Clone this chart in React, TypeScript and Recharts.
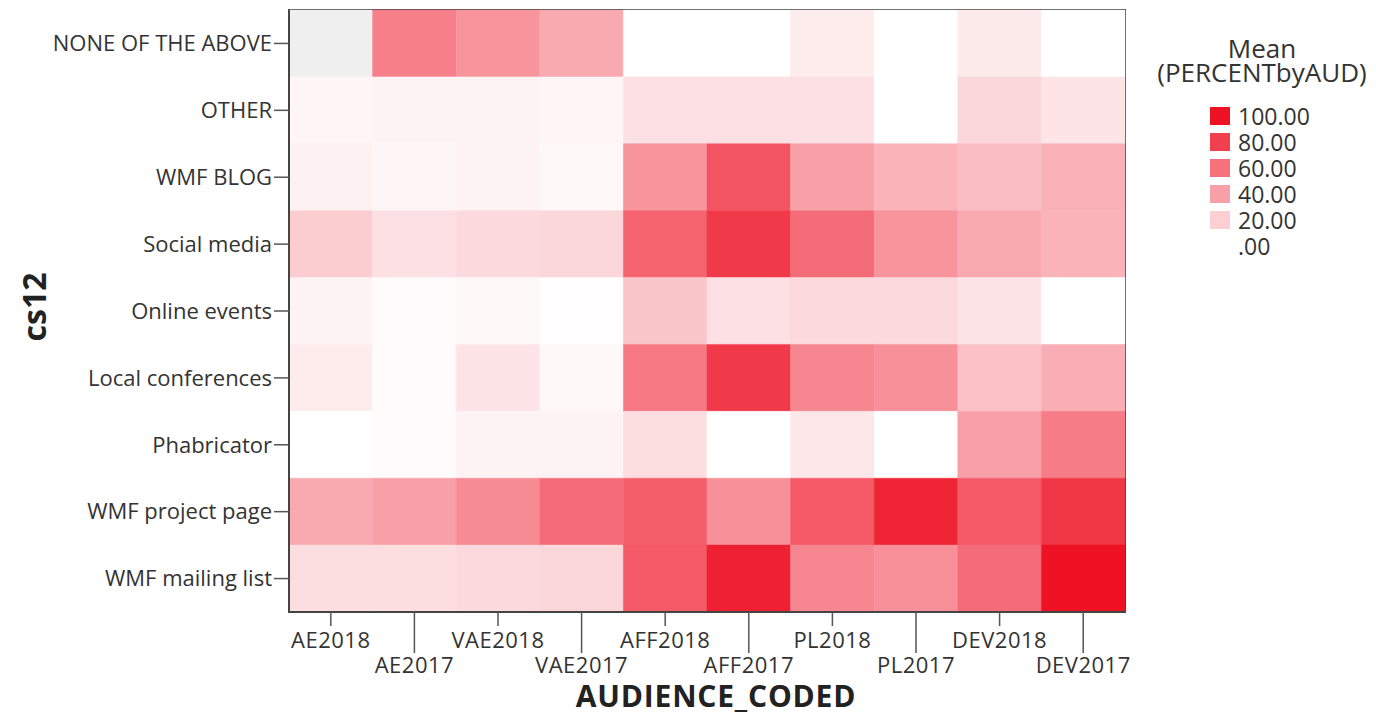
import React from "react";
import { BarChart, Bar, Cell, XAxis, YAxis, Legend, ReferenceArea } from "recharts";

const columns = ["AE2018", "AE2017", "VAE2018", "VAE2017", "AFF2018", "AFF2017", "PL2018", "PL2017", "DEV2018", "DEV2017"];
const rows = [
  "NONE OF THE ABOVE", "OTHER", "WMF BLOG", "Social media", "Online events",
  "Local conferences", "Phabricator", "WMF project page", "WMF mailing list",
];

// mean percent per audience, one array per cs12 row (null = no data, grey cell)
const noneOfTheAbove = [null, 54, 45, 36, 0, 0, 8, 0, 9, 0];
const other = [4, 5, 5, 4, 13, 13, 13, 0, 17, 11];
const wmfBlog = [6, 4, 5, 3, 45, 72, 40, 32, 28, 33];
const socialMedia = [21, 13, 16, 17, 66, 83, 62, 45, 36, 32];
const onlineEvents = [5, 2, 3, 1, 24, 13, 16, 16, 11, 0];
const localConferences = [8, 2, 11, 3, 57, 83, 51, 47, 26, 34];
const phabricator = [0, 2, 5, 5, 14, 0, 10, 0, 40, 55];
const wmfProjectPage = [36, 40, 49, 62, 68, 47, 70, 92, 70, 85];
const wmfMailingList = [14, 14, 16, 17, 70, 94, 51, 47, 62, 100];

const legendValues = [100, 80, 60, 40, 20, 0];

const matrix = [
  noneOfTheAbove, other, wmfBlog, socialMedia, onlineEvents,
  localConferences, phabricator, wmfProjectPage, wmfMailingList,
];

const FONT = "'Open Sans', 'DejaVu Sans', sans-serif";

function heat(v: number | null) {
  if (v == null) return "#efefef";
  const t = Math.max(0, Math.min(1, v / 100));
  const r = Math.round(255 - t * (255 - 238));
  const g = Math.round(255 - t * (255 - 18));
  const b = Math.round(255 - t * (255 - 36));
  return `rgb(${r},${g},${b})`;
}

const data = rows.map((name) => {
  const d: Record<string, any> = { name };
  columns.forEach((_, j) => (d[`c${j}`] = 1));
  return d;
});

const xTicks = columns.map((_, j) => j + 0.5);

function AudienceTick(props: any) {
  const { x, y, payload } = props;
  const j = Math.floor(payload.value);
  const low = j % 2 === 1;
  return (
    <g>
      <line x1={x} x2={x} y1={y} y2={y + (low ? 41 : 14)} stroke="#555" strokeWidth={1.5} />
      <text x={x} y={y + (low ? 61 : 36)} textAnchor="middle" fill="#333" fontSize={22} letterSpacing={0.5} fontFamily={FONT}>
        {columns[j]}
      </text>
    </g>
  );
}

function XTitle(props: any) {
  const { viewBox } = props;
  return (
    <text x={viewBox.x + viewBox.width / 2 + 9} y={viewBox.y + 95} textAnchor="middle" fill="#222" fontSize={30} letterSpacing={0.8} fontWeight={700} fontFamily={FONT}>
      AUDIENCE_CODED
    </text>
  );
}

function YTitle(props: any) {
  const { viewBox } = props;
  const cx = viewBox.x + 33;
  const cy = viewBox.y + viewBox.height / 2 - 4;
  return (
    <text x={cx} y={cy} transform={`rotate(-90 ${cx} ${cy})`} textAnchor="middle" dominantBaseline="central" fill="#222" fontSize={32} fontWeight={700} fontFamily={FONT}>
      cs12
    </text>
  );
}

function HeatLegend() {
  return (
    <div style={{ fontFamily: FONT, color: "#333" }}>
      <div style={{ textAlign: "center", fontSize: 26, lineHeight: "24px" }}>
        <div>Mean</div>
        <div>(PERCENTbyAUD)</div>
      </div>
      <div style={{ marginTop: 19, paddingLeft: 70 }}>
        {legendValues.map((v) => (
          <div key={v} style={{ display: "flex", alignItems: "center", height: 26 }}>
            <div style={{ width: 20, height: 18, background: heat(v), marginRight: 8 }} />
            <span style={{ fontSize: 23, lineHeight: "26px" }}>{v === 0 ? ".00" : v.toFixed(2)}</span>
          </div>
        ))}
      </div>
    </div>
  );
}

export default function App() {
  return (
    <div style={{ position: "absolute", left: 0, top: 0, background: "#fff" }}>
      <BarChart
        width={1376}
        height={716}
        data={data}
        layout="vertical"
        barCategoryGap={0}
        barGap={0}
        margin={{ top: 10, right: 251, bottom: 0, left: 0 }}
        style={{ fontFamily: FONT }}
      >
        <XAxis
          type="number"
          domain={[0, 10]}
          ticks={xTicks}
          interval={0}
          height={104}
          tickSize={0}
          tickMargin={0}
          tick={<AudienceTick />}
          axisLine={{ stroke: "#444", strokeWidth: 2 }}
          label={<XTitle />}
        />
        <YAxis
          type="category"
          dataKey="name"
          width={289}
          interval={0}
          tickSize={15}
          tickMargin={2}
          tick={{ fill: "#333", fontSize: 22 }}
          tickLine={{ stroke: "#555", strokeWidth: 1.5 }}
          axisLine={{ stroke: "#444", strokeWidth: 2 }}
          label={<YTitle />}
        />
        <Legend
          content={<HeatLegend />}
          layout="horizontal"
          align="center"
          verticalAlign="middle"
          wrapperStyle={{ left: 1140, top: 36, width: 244, right: "auto", bottom: "auto" }}
        />
        {columns.map((col, j) => (
          <Bar key={col} dataKey={`c${j}`} stackId="s" isAnimationActive={false} legendType="none">
            {rows.map((r, i) => (
              <Cell key={r} fill={heat(matrix[i][j])} stroke={heat(matrix[i][j])} strokeWidth={0.5} />
            ))}
          </Bar>
        ))}
        <ReferenceArea x1={0} x2={10} fill="none" stroke="#444" strokeWidth={2} strokeOpacity={1} fillOpacity={0} ifOverflow="visible" />
      </BarChart>
    </div>
  );
}
